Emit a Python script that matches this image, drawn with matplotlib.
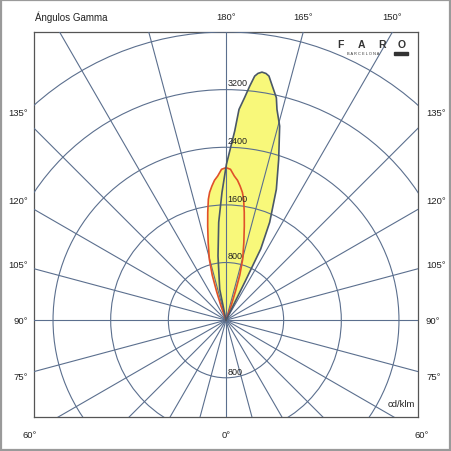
import numpy as np
import matplotlib
matplotlib.use("Agg")
import matplotlib.pyplot as plt
from matplotlib.patches import Circle, Rectangle

plt.rcParams['font.family'] = ['Liberation Sans', 'DejaVu Sans']

# ---- data (angle from vertical-up in degrees, positive to the right; cd/klm)
lobe_a_angle = [-12.0, -11.49, -7.09, -4.26, -1.79, 0.15, 2.63, 3.53, 4.79, 5.78, 6.70,
                7.38, 8.25, 9.2, 9.98, 11.2, 12.75, 13.59, 15.45, 18.13, 21.04, 24.04,
                26.0, 26.3, 26.5]
lobe_a_int = [0, 438, 898, 1363, 1776, 2163, 2627, 2931, 3103, 3265, 3411,
              3454, 3479, 3469, 3440, 3312, 3166, 3010, 2795, 2349, 1946, 1488,
              1100, 600, 0]

lobe_b_angle = [-21, -19.6, -18.1, -17.0, -15.3, -12.9, -11.0, -9.6, -8.3, -7.3, -6.0,
                -4.7, -3.3, -1.7, 0, 1.7, 3.3, 4.7, 6.0, 7.3, 8.3, 9.6, 11.0, 12.9,
                15.3, 17.0, 18.1, 19.6, 21]
lobe_b_int = [0, 206, 423, 653, 877, 1109, 1332, 1519, 1696, 1789, 1872,
              1948, 2004, 2095, 2117, 2095, 2004, 1948, 1872, 1789, 1696, 1519, 1332, 1109,
              877, 653, 423, 206, 0]

ring_values = [800, 1600, 2400, 3200, 4000]
ring_labels = ["800", "1600", "2400", "3200"]
spoke_step = 15

top_labels = ["180°", "165°", "150°"]
side_labels = ["135°", "120°", "105°", "90°", "75°"]
bottom_labels = ["60°", "0°", "60°"]

W = H = 452
fig = plt.figure(figsize=(4.52, 4.52), dpi=100)
fig.patch.set_facecolor('white')

def fx(px):
    return px / W

def fy(py):
    return 1 - py / H

# outer frame
fig.add_artist(Rectangle((fx(1), fy(451)), fx(450) - fx(1), fy(1) - fy(451),
                         transform=fig.transFigure, fill=False,
                         edgecolor='#9a9a9a', lw=1.6))

left, right, top, bottom = 34.3, 417.7, 33.0, 417.7
ax = fig.add_axes([fx(left), fy(bottom), fx(right) - fx(left), fy(top) - fy(bottom)])
ax.set_xlim(-2660, 2660)
ax.set_ylim(-1340, 4000)
ax.set_xticks([])
ax.set_yticks([])
for s in ax.spines.values():
    s.set_color('#555555')
    s.set_linewidth(0.9)

grid_c = '#5b6f8e'

def xy(angles, ints):
    t = np.deg2rad(np.asarray(angles, float))
    i = np.asarray(ints, float)
    return i * np.sin(t), i * np.cos(t)

xa, ya = xy(lobe_a_angle, lobe_a_int)
xb, yb = xy(lobe_b_angle, lobe_b_int)
fill_c = '#f8f87a'
ax.fill(xa, ya, color=fill_c, lw=0, zorder=2)
ax.fill(xb, yb, color=fill_c, lw=0, zorder=2)

for a in range(0, 360, spoke_step):
    t = np.deg2rad(a)
    ax.plot([0, 7000 * np.sin(t)], [0, 7000 * np.cos(t)], color=grid_c, lw=0.8, zorder=3)
for r in ring_values:
    ax.add_patch(Circle((0, 0), r, fill=False, edgecolor=grid_c, lw=0.8, zorder=3))

ax.plot(xb, yb, color='#e0502a', lw=1.2, zorder=4, solid_joinstyle='round')
ax.plot(xa, ya, color='#4a5868', lw=1.2, zorder=5, solid_joinstyle='round')

for r, lab in zip(ring_values, ring_labels):
    ax.text(20, r + 30, lab, fontsize=6.5, ha='left', va='bottom', color='#222222', zorder=6)
ax.text(20, -800 + 30, "800", fontsize=6.5, ha='left', va='bottom', color='#222222', zorder=6)

fs = 6.8
tc = '#222222'
fig.text(fx(35), fy(17), "Ángulos Gamma", fontsize=7, ha='left', va='center', color=tc)
for lab, px in zip(top_labels, [226, 303, 392]):
    fig.text(fx(px), fy(17), lab, fontsize=fs, ha='center', va='center', color=tc)
for lab, py in zip(side_labels, [113, 201, 266, 322, 378]):
    fig.text(fx(28), fy(py), lab, fontsize=fs, ha='right', va='center', color=tc)
    fig.text(fx(426), fy(py), lab, fontsize=fs, ha='left', va='center', color=tc)
for lab, px in zip(bottom_labels, [30, 226, 422]):
    fig.text(fx(px), fy(436), lab, fontsize=fs, ha='center', va='center', color=tc)
fig.text(fx(415), fy(405), "cd/klm", fontsize=fs, ha='right', va='center', color=tc)

# logo
for ch, px in zip("FARO", [340, 361, 382, 402]):
    fig.text(fx(px), fy(45), ch, fontsize=7.5, ha='center', va='center',
             color='#333333', fontweight='bold')
fig.text(fx(363), fy(54), "B A R C E L O N A", fontsize=2.8, ha='center', va='center',
         color='#333333')
fig.add_artist(Rectangle((fx(394), fy(55.5)), fx(408) - fx(394), fy(52.5) - fy(55.5),
                         transform=fig.transFigure, color='#333333'))

fig.savefig("out.png", dpi=100, facecolor='white')
